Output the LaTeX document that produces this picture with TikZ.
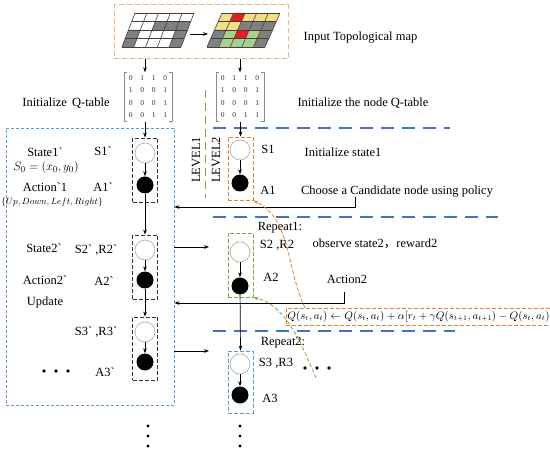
\documentclass[tikz,border=0pt]{standalone}
\usepackage{fontspec}
\setmainfont{Liberation Serif}
\newfontfamily\gravefont{Liberation Serif}[Ligatures=TeXOff]
\newfontfamily\cjk{Noto Sans CJK SC}
\newcommand\bq{{\gravefont`}}
\usetikzlibrary{arrows.meta}
\definecolor{oLight}{RGB}{244,177,131}
\definecolor{oDark}{RGB}{237,125,49}
\definecolor{bLine}{RGB}{68,114,196}
\definecolor{bBox}{RGB}{91,155,213}
\definecolor{gLine}{RGB}{112,173,71}
\definecolor{cGray}{RGB}{128,128,128}
\definecolor{cYel}{RGB}{246,222,135}
\definecolor{cGrn}{RGB}{169,209,142}
\definecolor{cRed}{RGB}{232,28,36}
\begin{document}
\begin{tikzpicture}[x=1pt,y=-1pt,
  font=\fontsize{12.5}{15}\selectfont,
  arr/.style={-{Stealth[length=5pt,width=3.6pt]}, line width=0.7pt},
  wc/.style={circle, draw=black!30, fill=white, minimum size=20pt, inner sep=0pt, line width=0.7pt},
  bc/.style={circle, fill=black, minimum size=17pt, inner sep=0pt},
  kbox/.style={draw=black!80, dash pattern=on 4pt off 2pt, line width=0.9pt, minimum width=25pt, inner sep=0pt},
  lbl/.style={inner sep=1pt},
  gline/.style={draw=black!75, line width=0.6pt},
  mat/.style={minimum width=48pt, minimum height=49pt, inner sep=0pt},
  ment/.style={font=\fontsize{7.5}{8}\selectfont, text=black!80, inner sep=0pt},
  blong/.style={bLine, line width=1.2pt, dash pattern=on 13pt off 8pt},
  dotm/.style={fill=black}
]
\useasboundingbox (0,0) rectangle (550,452);

% ---- top box with grids
\node[draw=oLight, dash pattern=on 5pt off 3pt, line width=1pt, minimum width=174pt, minimum height=54pt, inner sep=0pt] (top) at (201,32) {};

\begin{scope}[shift={(135,13)}, x={(11.8pt,0pt)}, y={(-3.25pt,-8.5pt)}]
  \fill[white] (0,0) -- (5,0) -- (5,4) -- (0,4) -- cycle;
  \foreach \c/\r in {2/1,3/1,4/1,0/2,4/2,0/3,4/3}
    \fill[cGray] (\c,\r) -- (\c+1,\r) -- (\c+1,\r+1) -- (\c,\r+1) -- cycle;
  \foreach \i in {0,...,5} \draw[gline] (\i,0) -- (\i,4);
  \foreach \j in {0,...,4} \draw[gline] (0,\j) -- (5,\j);
\end{scope}

\begin{scope}[shift={(222,13)}, x={(11.6pt,0pt)}, y={(-3.75pt,-8.5pt)}]
  \foreach \c/\r/\col in {0/0/cYel,1/0/cRed,2/0/cYel,3/0/cYel,4/0/cYel,
                          0/1/cYel,1/1/cYel,2/1/cGray,3/1/cGray,4/1/cGray,
                          0/2/cGray,1/2/cGrn,2/2/cRed,3/2/cGrn,4/2/cGray,
                          0/3/cGray,1/3/cGrn,2/3/cGrn,3/3/cGrn,4/3/cGray}
    \fill[\col] (\c,\r) -- (\c+1,\r) -- (\c+1,\r+1) -- (\c,\r+1) -- cycle;
  \foreach \i in {0,...,5} \draw[gline] (\i,0) -- (\i,4);
  \foreach \j in {0,...,4} \draw[gline] (0,\j) -- (5,\j);
\end{scope}

\coordinate (gA) at (190,34);
\coordinate (gB) at (208,34);
\draw[arr] (gA) -- (gB);

\node[lbl] (tInput) at (360.5,38) {Input Topological map};

% ---- matrices
\node[mat] (matL) at (148,97) {};
\node[mat] (matR) at (240,97) {};
\foreach \m in {matL,matR}{
  \draw[black!45, line width=0.6pt] ([xshift=3pt]\m.north west) -- (\m.north west) -- (\m.south west) -- ([xshift=3pt]\m.south west);
  \draw[black!45, line width=0.6pt] ([xshift=-3pt]\m.north east) -- (\m.north east) -- (\m.south east) -- ([xshift=-3pt]\m.south east);
  \foreach \v [count=\k from 0] in {0,1,1,0,1,0,0,1,0,0,0,1,0,0,1,1}{
    \pgfmathsetmacro\cx{7+11.5*mod(\k,4)}
    \pgfmathsetmacro\cy{5.5+12.4*int(\k/4)}
    \node[ment] at ([shift={(\cx pt,-\cy pt)}]\m.north west) {\v};
  }
}
\coordinate (dL) at (145,60);
\coordinate (dR) at (240,60);
\draw[arr] (top.south -| dL) -- (matL.north -| dL);
\draw[arr] (top.south -| dR) -- (matR.north -| dR);

\node[lbl] (tInitQ) at (66,103.5) {Initialize\, Q-table};
\node[lbl] (tInitNQ) at (363,103.5) {Initialize the node Q-table};

% ---- separators
\draw[blong] (213,128) -- (450,128);
\draw[blong] (213,217) -- (498,217);
\draw[blong] (213,331) -- (455,331);
\draw[gLine, line width=1pt, dash pattern=on 8pt off 5pt] (205,90) -- (205,198);
\node[lbl, rotate=90] (tLv1) at (196,160) {LEVEL1};
\node[lbl, rotate=90] (tLv2) at (216,160) {LEVEL2};

% ---- big left box
\node[draw=bBox, dash pattern=on 3pt off 2pt, line width=0.9pt, minimum width=168pt, minimum height=277pt, inner sep=0pt] (big) at (90,266.5) {};

% ---- left column
\node[kbox, minimum height=64pt] (bxL1) at (145,170) {};
\node[kbox, minimum height=64pt] (bxL2) at (145,267) {};
\node[kbox, minimum height=63pt] (bxL3) at (145,348.5) {};
\node[wc] (wL1) at (145,153) {};
\node[bc] (bL1) at (145,185) {};
\node[wc] (wL2) at (145,250) {};
\node[bc] (bL2) at (145,280) {};
\node[wc] (wL3) at (145,332) {};
\node[bc] (bL3) at (145,362) {};

\draw[arr] (matL.south -| bxL1.north) -- (bxL1.north);
\draw[arr] (wL1) -- (bL1);
\draw[arr] (bL1) -- (bxL2.north);
\draw[arr] (wL2) -- (bL2);
\draw[arr] (bL2) -- (bxL3.north);
\draw[arr] (wL3) -- (bL3);

\node[lbl] (tSt1) at (45,152) {State1\bq};
\node[lbl] (tS1p) at (103,151) {S1\bq};
\node[lbl] (tS0) at (46,168) {$S_0=\left(x_0,y_0\right)$};
\node[lbl] (tAc1) at (45,187) {Action\bq 1};
\node[lbl] (tA1p) at (103,187) {A1\bq};
\node[lbl, font=\fontsize{9.5}{11}\selectfont] (tUDLR) at (52,202) {$\{Up, Down, Left, Right\}$};
\node[lbl] (tSt2) at (44,248) {State2\bq};
\node[lbl] (tS2p) at (96,250) {S2\bq\ ,R2\bq};
\node[lbl] (tAc2) at (45,280) {Action2\bq};
\node[lbl] (tA2p) at (104,281) {A2\bq};
\node[lbl] (tUpd) at (45,302) {Update};
\node[lbl] (tS3p) at (96,332) {S3\bq\ ,R3\bq};
\node[lbl] (tA3p) at (105,372) {A3\bq};
\foreach \x in {44,56,68} \fill[dotm] (\x,371) circle (1.9pt);

% ---- right column
\node[kbox, draw=oDark, minimum height=63pt] (bxR1) at (240.5,168.5) {};
\node[kbox, draw=gLine, minimum height=64pt] (bxR2) at (240.5,265) {};
\node[kbox, draw=bBox, minimum height=62pt] (bxR3) at (240.5,382) {};
\node[wc] (wR1) at (240,150) {};
\node[bc] (bR1) at (240,183) {};
\node[wc] (wR2) at (240,252) {};
\node[bc] (bR2) at (240,286) {};
\node[wc] (wR3) at (240,364) {};
\node[bc] (bR3) at (240,395) {};

\draw[arr] (matR.south -| bxR1.north) -- (bxR1.north);
\draw[arr] (wR1) -- (bR1);
\draw[arr] (wR2) -- (bR2);
\draw[arr] (bR2) -- (bxR3.north);
\draw[arr] (wR3) -- (bR3);

\node[lbl] (tS1) at (268,149) {S1};
\node[lbl] (tInS1) at (343,152) {Initialize state1};
\node[lbl] (tA1) at (268,190) {A1};
\node[lbl] (tChoose) at (397,192) {Choose a Candidate node using policy};
\node[lbl] (tRep1) at (280,228) {Repeat1:};
\node[lbl] (tS2) at (277,245) {S2 ,R2};
\node[lbl] (tObs) at (375,244) {observe state2{\cjk ，}reward2};
\node[lbl] (tA2) at (271,277) {A2};
\node[lbl] (tAct2) at (347,279) {Action2};
\node[lbl] (tRep2) at (283,343) {Repeat2:};
\node[lbl] (tS3) at (276,363) {S3 ,R3};
\node[lbl] (tA3) at (270,398) {A3};
\foreach \x in {305,317,329} \fill[dotm] (\x,368) circle (1.9pt);
\foreach \y in {426,436,446} { \fill[dotm] (148,\y) circle (1.6pt); \fill[dotm] (240,\y) circle (1.6pt); }

% ---- horizontal connectors
\coordinate (aR2) at (209,247);
\coordinate (aR3) at (209,351);
\draw[arr] (big.east |- aR2) -- (aR2);
\draw[arr] (big.east |- aR3) -- (aR3);
\coordinate (chA) at (355,197);
\coordinate (chB) at (355,207);
\draw[arr] (chA) -- (chB) -- (big.east |- chB);
\coordinate (acA) at (344,292);
\coordinate (acB) at (344,303);
\draw[arr] (acA) -- (acB) -- (big.east |- acB);

% ---- formula
\node[draw=oDark, dash pattern=on 4pt off 2pt, line width=0.9pt, minimum width=257pt, minimum height=17pt, inner sep=1pt, font=\fontsize{10.6}{13}\selectfont] (fbox) at (418.5,316.5)
  {$Q(s_t,a_t)\leftarrow Q(s_t,a_t)+\alpha[r_t+\gamma Q(s_{t+1},a_{t+1})-Q(s_t,a_t)$};

% ---- curved dashed arrows
\coordinate (oc) at (305,308);
\draw[oDark, line width=0.8pt, dash pattern=on 4pt off 2pt, -{Stealth[length=5pt,width=3.6pt]}] (oc) .. controls (285,265) and (292,220) .. (bxR1.south east);
\coordinate (gc) at (316,378);
\draw[gLine, line width=0.8pt, dash pattern=on 4pt off 2pt, -{Stealth[length=5pt,width=3.6pt]}] (gc) .. controls (300,340) and (285,305) .. (bxR2.south east);
\end{tikzpicture}
\end{document}
